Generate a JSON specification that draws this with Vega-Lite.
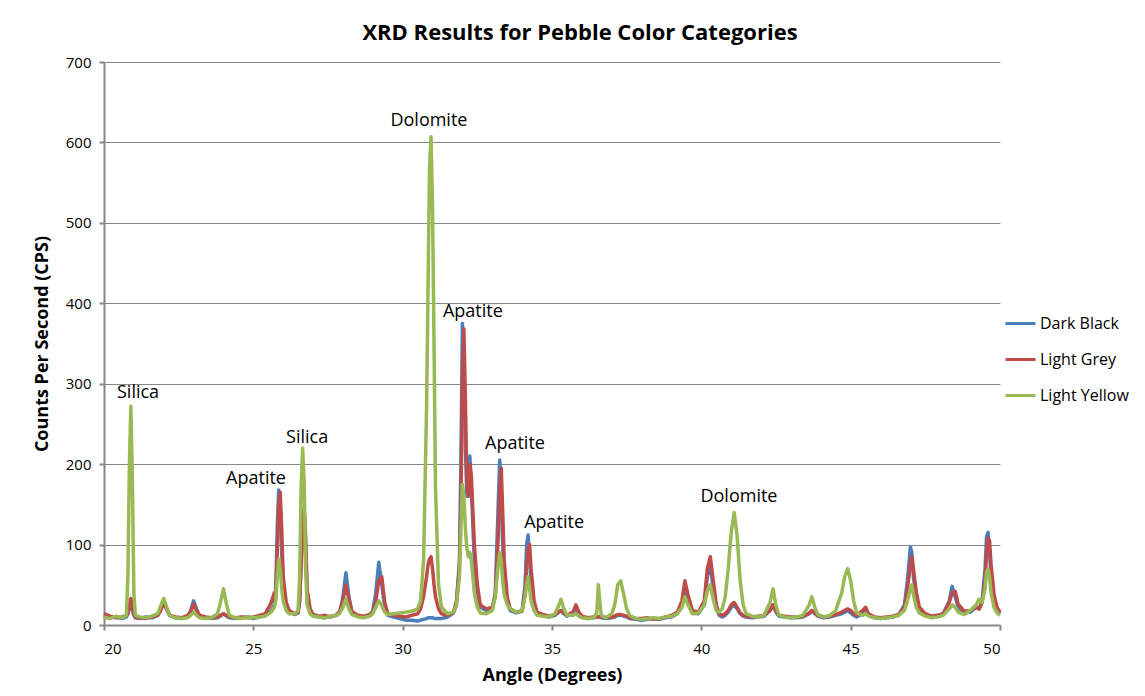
{
  "$schema": "https://vega.github.io/schema/vega-lite/v6.json",
  "width": 896,
  "height": 563,
  "autosize": "none",
  "padding": {"left": 104, "top": 62, "right": 145, "bottom": 71},
  "background": "white",
  "config": {
    "font": "Open Sans",
    "view": {"stroke": null},
    "axis": {"labelFont": "Open Sans", "titleFont": "Open Sans", "labelColor": "#000", "titleColor": "#000"}
  },
  "title": {
    "text": "XRD Results for Pebble Color Categories",
    "font": "Open Sans",
    "fontSize": 22,
    "fontWeight": "bold",
    "color": "#000",
    "anchor": "middle",
    "dx": 28,
    "offset": 10
  },
  "datasets": {
    "xrd": [
      {"a":20.0,"Dark Black":12,"Light Grey":14,"Light Yellow":10},
      {"a":20.2,"Dark Black":9,"Light Grey":11,"Light Yellow":8},
      {"a":20.4,"Dark Black":10,"Light Grey":9,"Light Yellow":11},
      {"a":20.6,"Dark Black":8,"Light Grey":10,"Light Yellow":9},
      {"a":20.75,"Dark Black":10,"Light Grey":12,"Light Yellow":12},
      {"a":20.8,"Dark Black":14,"Light Grey":14,"Light Yellow":60},
      {"a":20.85,"Dark Black":22,"Light Grey":25,"Light Yellow":200},
      {"a":20.9,"Dark Black":28,"Light Grey":33,"Light Yellow":272},
      {"a":20.95,"Dark Black":18,"Light Grey":22,"Light Yellow":180},
      {"a":21.0,"Dark Black":12,"Light Grey":14,"Light Yellow":40},
      {"a":21.05,"Dark Black":9,"Light Grey":10,"Light Yellow":12},
      {"a":21.2,"Dark Black":8,"Light Grey":9,"Light Yellow":10},
      {"a":21.4,"Dark Black":10,"Light Grey":8,"Light Yellow":9},
      {"a":21.6,"Dark Black":9,"Light Grey":10,"Light Yellow":11},
      {"a":21.8,"Dark Black":12,"Light Grey":12,"Light Yellow":14},
      {"a":21.9,"Dark Black":20,"Light Grey":18,"Light Yellow":24},
      {"a":22.0,"Dark Black":30,"Light Grey":28,"Light Yellow":33},
      {"a":22.1,"Dark Black":20,"Light Grey":19,"Light Yellow":22},
      {"a":22.2,"Dark Black":12,"Light Grey":12,"Light Yellow":12},
      {"a":22.4,"Dark Black":9,"Light Grey":10,"Light Yellow":9},
      {"a":22.6,"Dark Black":8,"Light Grey":9,"Light Yellow":8},
      {"a":22.8,"Dark Black":10,"Light Grey":12,"Light Yellow":9},
      {"a":22.9,"Dark Black":18,"Light Grey":16,"Light Yellow":12},
      {"a":23.0,"Dark Black":30,"Light Grey":26,"Light Yellow":16},
      {"a":23.1,"Dark Black":20,"Light Grey":18,"Light Yellow":12},
      {"a":23.2,"Dark Black":11,"Light Grey":12,"Light Yellow":9},
      {"a":23.4,"Dark Black":9,"Light Grey":10,"Light Yellow":8},
      {"a":23.6,"Dark Black":8,"Light Grey":9,"Light Yellow":9},
      {"a":23.8,"Dark Black":9,"Light Grey":10,"Light Yellow":14},
      {"a":23.9,"Dark Black":11,"Light Grey":12,"Light Yellow":28},
      {"a":24.0,"Dark Black":14,"Light Grey":14,"Light Yellow":45},
      {"a":24.1,"Dark Black":11,"Light Grey":12,"Light Yellow":26},
      {"a":24.2,"Dark Black":9,"Light Grey":10,"Light Yellow":12},
      {"a":24.4,"Dark Black":8,"Light Grey":9,"Light Yellow":9},
      {"a":24.6,"Dark Black":9,"Light Grey":10,"Light Yellow":8},
      {"a":24.8,"Dark Black":10,"Light Grey":9,"Light Yellow":10},
      {"a":25.0,"Dark Black":8,"Light Grey":10,"Light Yellow":9},
      {"a":25.2,"Dark Black":10,"Light Grey":12,"Light Yellow":10},
      {"a":25.4,"Dark Black":12,"Light Grey":14,"Light Yellow":11},
      {"a":25.6,"Dark Black":18,"Light Grey":28,"Light Yellow":16},
      {"a":25.7,"Dark Black":25,"Light Grey":40,"Light Yellow":22},
      {"a":25.75,"Dark Black":40,"Light Grey":35,"Light Yellow":30},
      {"a":25.8,"Dark Black":120,"Light Grey":90,"Light Yellow":60},
      {"a":25.85,"Dark Black":168,"Light Grey":150,"Light Yellow":82},
      {"a":25.9,"Dark Black":140,"Light Grey":165,"Light Yellow":70},
      {"a":25.95,"Dark Black":90,"Light Grey":120,"Light Yellow":45},
      {"a":26.0,"Dark Black":50,"Light Grey":60,"Light Yellow":30},
      {"a":26.1,"Dark Black":25,"Light Grey":28,"Light Yellow":18},
      {"a":26.2,"Dark Black":16,"Light Grey":18,"Light Yellow":14},
      {"a":26.4,"Dark Black":13,"Light Grey":14,"Light Yellow":14},
      {"a":26.5,"Dark Black":15,"Light Grey":16,"Light Yellow":18},
      {"a":26.55,"Dark Black":30,"Light Grey":30,"Light Yellow":60},
      {"a":26.6,"Dark Black":80,"Light Grey":75,"Light Yellow":170},
      {"a":26.65,"Dark Black":120,"Light Grey":110,"Light Yellow":220},
      {"a":26.7,"Dark Black":145,"Light Grey":145,"Light Yellow":180},
      {"a":26.75,"Dark Black":100,"Light Grey":110,"Light Yellow":70},
      {"a":26.8,"Dark Black":40,"Light Grey":45,"Light Yellow":25},
      {"a":26.9,"Dark Black":18,"Light Grey":20,"Light Yellow":14},
      {"a":27.0,"Dark Black":12,"Light Grey":13,"Light Yellow":11},
      {"a":27.2,"Dark Black":10,"Light Grey":11,"Light Yellow":10},
      {"a":27.4,"Dark Black":9,"Light Grey":12,"Light Yellow":9},
      {"a":27.6,"Dark Black":11,"Light Grey":10,"Light Yellow":11},
      {"a":27.8,"Dark Black":12,"Light Grey":13,"Light Yellow":12},
      {"a":27.9,"Dark Black":16,"Light Grey":18,"Light Yellow":15},
      {"a":28.0,"Dark Black":35,"Light Grey":30,"Light Yellow":22},
      {"a":28.1,"Dark Black":65,"Light Grey":50,"Light Yellow":32},
      {"a":28.2,"Dark Black":35,"Light Grey":32,"Light Yellow":20},
      {"a":28.3,"Dark Black":16,"Light Grey":17,"Light Yellow":13},
      {"a":28.5,"Dark Black":11,"Light Grey":12,"Light Yellow":10},
      {"a":28.7,"Dark Black":10,"Light Grey":11,"Light Yellow":9},
      {"a":28.9,"Dark Black":12,"Light Grey":13,"Light Yellow":11},
      {"a":29.0,"Dark Black":18,"Light Grey":16,"Light Yellow":14},
      {"a":29.1,"Dark Black":40,"Light Grey":30,"Light Yellow":22},
      {"a":29.2,"Dark Black":78,"Light Grey":55,"Light Yellow":30},
      {"a":29.3,"Dark Black":50,"Light Grey":60,"Light Yellow":24},
      {"a":29.4,"Dark Black":22,"Light Grey":28,"Light Yellow":16},
      {"a":29.5,"Dark Black":12,"Light Grey":14,"Light Yellow":13},
      {"a":29.7,"Dark Black":10,"Light Grey":12,"Light Yellow":14},
      {"a":29.9,"Dark Black":8,"Light Grey":11,"Light Yellow":15},
      {"a":30.1,"Dark Black":6,"Light Grey":10,"Light Yellow":16},
      {"a":30.3,"Dark Black":6,"Light Grey":12,"Light Yellow":17},
      {"a":30.5,"Dark Black":5,"Light Grey":14,"Light Yellow":20},
      {"a":30.6,"Dark Black":6,"Light Grey":20,"Light Yellow":30},
      {"a":30.7,"Dark Black":7,"Light Grey":35,"Light Yellow":80},
      {"a":30.8,"Dark Black":8,"Light Grey":60,"Light Yellow":270},
      {"a":30.85,"Dark Black":9,"Light Grey":75,"Light Yellow":420},
      {"a":30.9,"Dark Black":9,"Light Grey":82,"Light Yellow":570},
      {"a":30.95,"Dark Black":9,"Light Grey":85,"Light Yellow":607},
      {"a":31.0,"Dark Black":9,"Light Grey":70,"Light Yellow":520},
      {"a":31.05,"Dark Black":8,"Light Grey":50,"Light Yellow":350},
      {"a":31.1,"Dark Black":8,"Light Grey":35,"Light Yellow":170},
      {"a":31.2,"Dark Black":8,"Light Grey":20,"Light Yellow":50},
      {"a":31.3,"Dark Black":8,"Light Grey":14,"Light Yellow":22},
      {"a":31.5,"Dark Black":10,"Light Grey":12,"Light Yellow":14},
      {"a":31.7,"Dark Black":15,"Light Grey":16,"Light Yellow":16},
      {"a":31.8,"Dark Black":25,"Light Grey":30,"Light Yellow":25},
      {"a":31.9,"Dark Black":80,"Light Grey":70,"Light Yellow":60},
      {"a":31.95,"Dark Black":200,"Light Grey":150,"Light Yellow":120},
      {"a":32.0,"Dark Black":375,"Light Grey":300,"Light Yellow":175},
      {"a":32.05,"Dark Black":340,"Light Grey":368,"Light Yellow":160},
      {"a":32.1,"Dark Black":220,"Light Grey":280,"Light Yellow":120},
      {"a":32.15,"Dark Black":160,"Light Grey":180,"Light Yellow":95},
      {"a":32.2,"Dark Black":180,"Light Grey":160,"Light Yellow":85},
      {"a":32.25,"Dark Black":210,"Light Grey":200,"Light Yellow":90},
      {"a":32.3,"Dark Black":170,"Light Grey":185,"Light Yellow":80},
      {"a":32.4,"Dark Black":80,"Light Grey":100,"Light Yellow":40},
      {"a":32.5,"Dark Black":40,"Light Grey":50,"Light Yellow":22},
      {"a":32.6,"Dark Black":22,"Light Grey":25,"Light Yellow":15},
      {"a":32.8,"Dark Black":18,"Light Grey":20,"Light Yellow":14},
      {"a":33.0,"Dark Black":20,"Light Grey":22,"Light Yellow":18},
      {"a":33.1,"Dark Black":40,"Light Grey":35,"Light Yellow":35},
      {"a":33.2,"Dark Black":150,"Light Grey":110,"Light Yellow":75},
      {"a":33.25,"Dark Black":205,"Light Grey":170,"Light Yellow":90},
      {"a":33.3,"Dark Black":160,"Light Grey":195,"Light Yellow":80},
      {"a":33.35,"Dark Black":100,"Light Grey":140,"Light Yellow":55},
      {"a":33.4,"Dark Black":55,"Light Grey":80,"Light Yellow":38},
      {"a":33.5,"Dark Black":28,"Light Grey":35,"Light Yellow":25},
      {"a":33.6,"Dark Black":18,"Light Grey":20,"Light Yellow":20},
      {"a":33.8,"Dark Black":15,"Light Grey":16,"Light Yellow":16},
      {"a":34.0,"Dark Black":18,"Light Grey":17,"Light Yellow":18},
      {"a":34.1,"Dark Black":50,"Light Grey":40,"Light Yellow":35},
      {"a":34.15,"Dark Black":100,"Light Grey":70,"Light Yellow":50},
      {"a":34.2,"Dark Black":112,"Light Grey":95,"Light Yellow":60},
      {"a":34.25,"Dark Black":85,"Light Grey":100,"Light Yellow":45},
      {"a":34.3,"Dark Black":50,"Light Grey":70,"Light Yellow":30},
      {"a":34.4,"Dark Black":22,"Light Grey":30,"Light Yellow":18},
      {"a":34.5,"Dark Black":14,"Light Grey":16,"Light Yellow":12},
      {"a":34.7,"Dark Black":12,"Light Grey":13,"Light Yellow":11},
      {"a":34.9,"Dark Black":10,"Light Grey":11,"Light Yellow":10},
      {"a":35.1,"Dark Black":12,"Light Grey":13,"Light Yellow":14},
      {"a":35.2,"Dark Black":15,"Light Grey":16,"Light Yellow":22},
      {"a":35.3,"Dark Black":18,"Light Grey":18,"Light Yellow":32},
      {"a":35.4,"Dark Black":14,"Light Grey":15,"Light Yellow":20},
      {"a":35.5,"Dark Black":11,"Light Grey":12,"Light Yellow":12},
      {"a":35.7,"Dark Black":14,"Light Grey":16,"Light Yellow":12},
      {"a":35.8,"Dark Black":22,"Light Grey":25,"Light Yellow":14},
      {"a":35.9,"Dark Black":14,"Light Grey":16,"Light Yellow":11},
      {"a":36.0,"Dark Black":10,"Light Grey":11,"Light Yellow":9},
      {"a":36.2,"Dark Black":8,"Light Grey":9,"Light Yellow":8},
      {"a":36.4,"Dark Black":9,"Light Grey":10,"Light Yellow":9},
      {"a":36.5,"Dark Black":10,"Light Grey":10,"Light Yellow":15},
      {"a":36.55,"Dark Black":10,"Light Grey":10,"Light Yellow":50},
      {"a":36.6,"Dark Black":10,"Light Grey":11,"Light Yellow":30},
      {"a":36.65,"Dark Black":9,"Light Grey":10,"Light Yellow":12},
      {"a":36.8,"Dark Black":8,"Light Grey":9,"Light Yellow":9},
      {"a":37.0,"Dark Black":9,"Light Grey":10,"Light Yellow":14},
      {"a":37.1,"Dark Black":10,"Light Grey":11,"Light Yellow":25},
      {"a":37.2,"Dark Black":12,"Light Grey":13,"Light Yellow":50},
      {"a":37.3,"Dark Black":12,"Light Grey":13,"Light Yellow":55},
      {"a":37.4,"Dark Black":11,"Light Grey":12,"Light Yellow":38},
      {"a":37.5,"Dark Black":10,"Light Grey":11,"Light Yellow":20},
      {"a":37.6,"Dark Black":8,"Light Grey":9,"Light Yellow":12},
      {"a":37.8,"Dark Black":7,"Light Grey":8,"Light Yellow":8},
      {"a":38.0,"Dark Black":6,"Light Grey":8,"Light Yellow":7},
      {"a":38.2,"Dark Black":7,"Light Grey":9,"Light Yellow":8},
      {"a":38.4,"Dark Black":8,"Light Grey":7,"Light Yellow":9},
      {"a":38.6,"Dark Black":7,"Light Grey":8,"Light Yellow":8},
      {"a":38.8,"Dark Black":9,"Light Grey":10,"Light Yellow":10},
      {"a":39.0,"Dark Black":10,"Light Grey":12,"Light Yellow":11},
      {"a":39.2,"Dark Black":14,"Light Grey":16,"Light Yellow":14},
      {"a":39.35,"Dark Black":25,"Light Grey":30,"Light Yellow":22},
      {"a":39.45,"Dark Black":45,"Light Grey":55,"Light Yellow":35},
      {"a":39.55,"Dark Black":30,"Light Grey":38,"Light Yellow":25},
      {"a":39.7,"Dark Black":15,"Light Grey":18,"Light Yellow":14},
      {"a":39.9,"Dark Black":14,"Light Grey":16,"Light Yellow":15},
      {"a":40.1,"Dark Black":25,"Light Grey":30,"Light Yellow":25},
      {"a":40.2,"Dark Black":60,"Light Grey":70,"Light Yellow":42},
      {"a":40.3,"Dark Black":75,"Light Grey":85,"Light Yellow":50},
      {"a":40.4,"Dark Black":45,"Light Grey":55,"Light Yellow":32},
      {"a":40.5,"Dark Black":22,"Light Grey":25,"Light Yellow":18},
      {"a":40.6,"Dark Black":12,"Light Grey":14,"Light Yellow":16},
      {"a":40.7,"Dark Black":10,"Light Grey":12,"Light Yellow":20},
      {"a":40.8,"Dark Black":12,"Light Grey":14,"Light Yellow":35},
      {"a":40.9,"Dark Black":16,"Light Grey":18,"Light Yellow":70},
      {"a":41.0,"Dark Black":22,"Light Grey":25,"Light Yellow":115},
      {"a":41.1,"Dark Black":25,"Light Grey":28,"Light Yellow":140},
      {"a":41.2,"Dark Black":20,"Light Grey":22,"Light Yellow":110},
      {"a":41.3,"Dark Black":14,"Light Grey":15,"Light Yellow":55},
      {"a":41.4,"Dark Black":11,"Light Grey":12,"Light Yellow":25},
      {"a":41.5,"Dark Black":10,"Light Grey":11,"Light Yellow":14},
      {"a":41.7,"Dark Black":9,"Light Grey":10,"Light Yellow":11},
      {"a":41.9,"Dark Black":10,"Light Grey":11,"Light Yellow":10},
      {"a":42.1,"Dark Black":11,"Light Grey":12,"Light Yellow":12},
      {"a":42.3,"Dark Black":18,"Light Grey":18,"Light Yellow":28},
      {"a":42.4,"Dark Black":25,"Light Grey":25,"Light Yellow":45},
      {"a":42.5,"Dark Black":16,"Light Grey":17,"Light Yellow":24},
      {"a":42.6,"Dark Black":11,"Light Grey":12,"Light Yellow":12},
      {"a":42.8,"Dark Black":10,"Light Grey":11,"Light Yellow":10},
      {"a":43.0,"Dark Black":9,"Light Grey":10,"Light Yellow":9},
      {"a":43.2,"Dark Black":9,"Light Grey":10,"Light Yellow":10},
      {"a":43.4,"Dark Black":10,"Light Grey":11,"Light Yellow":12},
      {"a":43.6,"Dark Black":14,"Light Grey":14,"Light Yellow":24},
      {"a":43.7,"Dark Black":18,"Light Grey":18,"Light Yellow":35},
      {"a":43.8,"Dark Black":14,"Light Grey":15,"Light Yellow":22},
      {"a":43.9,"Dark Black":11,"Light Grey":12,"Light Yellow":13},
      {"a":44.1,"Dark Black":9,"Light Grey":10,"Light Yellow":10},
      {"a":44.3,"Dark Black":10,"Light Grey":11,"Light Yellow":12},
      {"a":44.5,"Dark Black":12,"Light Grey":13,"Light Yellow":18},
      {"a":44.7,"Dark Black":14,"Light Grey":16,"Light Yellow":40},
      {"a":44.8,"Dark Black":16,"Light Grey":18,"Light Yellow":60},
      {"a":44.9,"Dark Black":18,"Light Grey":20,"Light Yellow":70},
      {"a":45.0,"Dark Black":15,"Light Grey":18,"Light Yellow":55},
      {"a":45.1,"Dark Black":12,"Light Grey":14,"Light Yellow":30},
      {"a":45.2,"Dark Black":10,"Light Grey":12,"Light Yellow":15},
      {"a":45.4,"Dark Black":14,"Light Grey":18,"Light Yellow":12},
      {"a":45.5,"Dark Black":18,"Light Grey":22,"Light Yellow":14},
      {"a":45.6,"Dark Black":12,"Light Grey":14,"Light Yellow":11},
      {"a":45.8,"Dark Black":9,"Light Grey":10,"Light Yellow":9},
      {"a":46.0,"Dark Black":8,"Light Grey":9,"Light Yellow":8},
      {"a":46.2,"Dark Black":9,"Light Grey":10,"Light Yellow":9},
      {"a":46.4,"Dark Black":10,"Light Grey":11,"Light Yellow":10},
      {"a":46.6,"Dark Black":12,"Light Grey":13,"Light Yellow":12},
      {"a":46.8,"Dark Black":25,"Light Grey":22,"Light Yellow":18},
      {"a":46.9,"Dark Black":55,"Light Grey":45,"Light Yellow":30},
      {"a":47.0,"Dark Black":97,"Light Grey":75,"Light Yellow":45},
      {"a":47.05,"Dark Black":90,"Light Grey":85,"Light Yellow":50},
      {"a":47.1,"Dark Black":60,"Light Grey":70,"Light Yellow":38},
      {"a":47.2,"Dark Black":32,"Light Grey":40,"Light Yellow":22},
      {"a":47.3,"Dark Black":18,"Light Grey":22,"Light Yellow":15},
      {"a":47.5,"Dark Black":12,"Light Grey":14,"Light Yellow":11},
      {"a":47.7,"Dark Black":10,"Light Grey":11,"Light Yellow":9},
      {"a":47.9,"Dark Black":11,"Light Grey":12,"Light Yellow":10},
      {"a":48.1,"Dark Black":14,"Light Grey":14,"Light Yellow":12},
      {"a":48.3,"Dark Black":30,"Light Grey":28,"Light Yellow":20},
      {"a":48.4,"Dark Black":48,"Light Grey":40,"Light Yellow":25},
      {"a":48.5,"Dark Black":35,"Light Grey":42,"Light Yellow":22},
      {"a":48.6,"Dark Black":22,"Light Grey":26,"Light Yellow":16},
      {"a":48.8,"Dark Black":15,"Light Grey":17,"Light Yellow":13},
      {"a":49.0,"Dark Black":16,"Light Grey":18,"Light Yellow":18},
      {"a":49.2,"Dark Black":22,"Light Grey":22,"Light Yellow":25},
      {"a":49.3,"Dark Black":20,"Light Grey":20,"Light Yellow":32},
      {"a":49.4,"Dark Black":30,"Light Grey":28,"Light Yellow":28},
      {"a":49.5,"Dark Black":70,"Light Grey":55,"Light Yellow":45},
      {"a":49.55,"Dark Black":110,"Light Grey":90,"Light Yellow":65},
      {"a":49.6,"Dark Black":115,"Light Grey":108,"Light Yellow":70},
      {"a":49.65,"Dark Black":90,"Light Grey":105,"Light Yellow":60},
      {"a":49.7,"Dark Black":55,"Light Grey":75,"Light Yellow":40},
      {"a":49.8,"Dark Black":28,"Light Grey":38,"Light Yellow":22},
      {"a":49.9,"Dark Black":18,"Light Grey":22,"Light Yellow":15},
      {"a":50.0,"Dark Black":14,"Light Grey":16,"Light Yellow":12}
    ],
    "labels": [
      {"label":"Silica","a":21.14,"c":288},
      {"label":"Apatite","a":25.09,"c":182},
      {"label":"Silica","a":26.8,"c":233},
      {"label":"Dolomite","a":30.88,"c":627},
      {"label":"Apatite","a":32.35,"c":389},
      {"label":"Apatite","a":33.76,"c":225},
      {"label":"Apatite","a":35.07,"c":127},
      {"label":"Dolomite","a":41.26,"c":159}
    ]
  },
  "layer": [
    {
      "data": {"name": "xrd"},
      "transform": [{"fold": ["Dark Black", "Light Grey", "Light Yellow"], "as": ["series", "cps"]}],
      "mark": {"type": "line", "strokeWidth": 3.5, "strokeJoin": "round"},
      "encoding": {
        "x": {
          "field": "a", "type": "quantitative",
          "scale": {"domain": [20, 50], "nice": false, "zero": false},
          "axis": {
            "title": "Angle (Degrees)", "titleFontSize": 18, "titleFontWeight": "bold", "titlePadding": 10,
            "values": [20, 25, 30, 35, 40, 45, 50], "labelFontSize": 15, "labelPadding": 11,
            "grid": false, "domainColor": "#878787", "domainWidth": 2, "tickColor": "#878787", "tickWidth": 2, "tickSize": 5
          }
        },
        "y": {
          "field": "cps", "type": "quantitative",
          "scale": {"domain": [0, 700], "nice": false},
          "axis": {
            "title": "Counts Per Second (CPS)", "titleFontSize": 18, "titleFontWeight": "bold", "titlePadding": 14,
            "values": [0, 100, 200, 300, 400, 500, 600, 700], "labelFontSize": 15, "labelPadding": 8,
            "grid": true, "gridColor": "#878787", "gridWidth": 1,
            "domainColor": "#878787", "domainWidth": 2, "tickColor": "#878787", "tickWidth": 2, "tickSize": 5
          }
        },
        "color": {
          "field": "series", "type": "nominal",
          "scale": {"domain": ["Dark Black", "Light Grey", "Light Yellow"], "range": ["#4A7EBB", "#BE4B48", "#98B954"]},
          "legend": {
            "title": null, "orient": "none", "legendX": 900, "legendY": 245,
            "symbolType": "stroke", "symbolSize": 900, "symbolStrokeWidth": 3,
            "labelFontSize": 16, "labelFont": "Open Sans", "labelColor": "#000", "rowPadding": 11, "labelOffset": 3
          }
        }
      }
    },
    {
      "data": {"name": "labels"},
      "mark": {"type": "text", "fontSize": 18, "font": "Open Sans", "color": "#000", "baseline": "middle", "align": "center"},
      "encoding": {
        "x": {"field": "a", "type": "quantitative"},
        "y": {"field": "c", "type": "quantitative"},
        "text": {"field": "label"}
      }
    }
  ]
}
